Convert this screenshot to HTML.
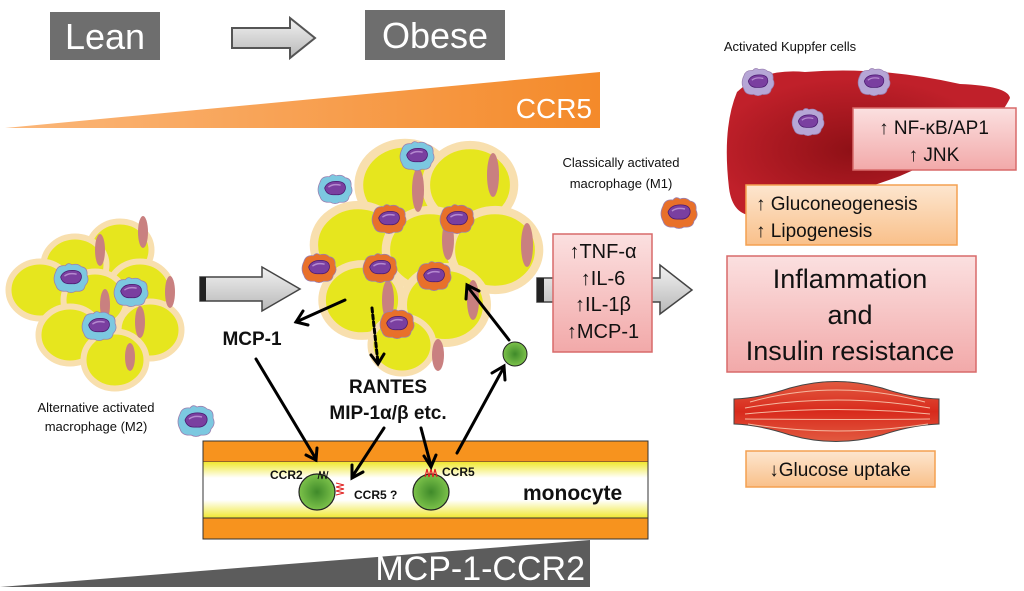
<!DOCTYPE html>
<html><head><meta charset="utf-8"><style>
html,body{margin:0;padding:0;background:#fff;}
svg{display:block;font-family:"Liberation Sans",Arial,sans-serif;}
</style></head><body>
<svg width="1024" height="591" viewBox="0 0 1024 591" xmlns="http://www.w3.org/2000/svg">
<defs>
<linearGradient id="org" x1="0" x2="1"><stop offset="0" stop-color="#fbb77a"/><stop offset="1" stop-color="#f48a2a"/></linearGradient>
<linearGradient id="gry" x1="0" y1="0" x2="0" y2="1"><stop offset="0" stop-color="#f2f2f2"/><stop offset="1" stop-color="#b8b8b8"/></linearGradient>
<linearGradient id="pink" x1="0" y1="0" x2="0" y2="1"><stop offset="0" stop-color="#fbe0e0"/><stop offset="1" stop-color="#f2a9a9"/></linearGradient>
<linearGradient id="peach" x1="0" y1="0" x2="0" y2="1"><stop offset="0" stop-color="#fde6cf"/><stop offset="1" stop-color="#f9c08a"/></linearGradient>
<linearGradient id="yl1" x1="0" y1="0" x2="0" y2="1"><stop offset="0" stop-color="#f0e830"/><stop offset="1" stop-color="#fff"/></linearGradient>
<linearGradient id="yl2" x1="0" y1="0" x2="0" y2="1"><stop offset="0" stop-color="#fff"/><stop offset="1" stop-color="#f0e830"/></linearGradient>
<radialGradient id="grn"><stop offset="0" stop-color="#3f8a2a"/><stop offset="1" stop-color="#7cc24a"/></radialGradient>
<radialGradient id="liv" cx="0.45" cy="0.55"><stop offset="0" stop-color="#8e1016"/><stop offset="1" stop-color="#c0202a"/></radialGradient>
<linearGradient id="mus" x1="0" y1="0" x2="0" y2="1"><stop offset="0" stop-color="#e25a40"/><stop offset="0.5" stop-color="#d82a1c"/><stop offset="1" stop-color="#e25a40"/></linearGradient>
<symbol id="mac" viewBox="0 0 40 34">
<path d="M4 10 Q6 3 14 4 Q17 0 21 3 Q27 1 31 5 Q38 6 37 14 Q40 20 35 25 Q34 32 25 31 Q20 34 15 31 Q6 32 4 25 Q0 18 4 10Z" fill="currentColor" stroke="#9a7fb0" stroke-width="0.8"/>
<path d="M9 16 Q12 8 24 9 Q32 10 31 17 Q29 24 20 23 Q11 24 9 16Z" fill="#7a3fa0" stroke="#4a1a70" stroke-width="0.8"/>
<path d="M13 15 Q18 11 26 13" stroke="#b58ad0" stroke-width="1.5" fill="none"/>
</symbol>
<g id="fat"><ellipse cx="0" cy="0" rx="42" ry="38" fill="#e6e61e" stroke="#f8dfae" stroke-width="8"/></g>
</defs>

<rect x="50" y="12" width="110" height="48" fill="#6e6e6e"/>
<text x="105" y="49" fill="#fff" font-size="36" text-anchor="middle">Lean</text>
<path d="M232 28 H290 V18 L315 38 L290 58 V48 H232Z" fill="url(#gry)" stroke="#555" stroke-width="2"/>
<rect x="365" y="10" width="140" height="50" fill="#6e6e6e"/>
<text x="435" y="48" fill="#fff" font-size="36" text-anchor="middle">Obese</text>

<path d="M5 128 L600 72 L600 128Z" fill="url(#org)"/>
<text x="592" y="118" fill="#fff" font-size="28" text-anchor="end">CCR5</text>

<path d="M0 587 L590 540 L590 587Z" fill="#5c5c5c"/>
<text x="585" y="580" fill="#fff" font-size="34" text-anchor="end">MCP-1-CCR2</text>

<g>
<use href="#fat" transform="translate(120,250) scale(0.75)"/>
<use href="#fat" transform="translate(75,265) scale(0.75)"/>
<use href="#fat" transform="translate(140,290) scale(0.75)"/>
<use href="#fat" transform="translate(40,290) scale(0.75)"/>
<use href="#fat" transform="translate(95,300) scale(0.75)"/>
<use href="#fat" transform="translate(150,330) scale(0.75)"/>
<use href="#fat" transform="translate(70,335) scale(0.75)"/>
<use href="#fat" transform="translate(115,360) scale(0.75)"/>
<ellipse cx="143" cy="232" rx="5" ry="16" fill="#c98080"/>
<ellipse cx="100" cy="250" rx="5" ry="16" fill="#c98080"/>
<ellipse cx="170" cy="292" rx="5" ry="16" fill="#c98080"/>
<ellipse cx="105" cy="305" rx="5" ry="16" fill="#c98080"/>
<ellipse cx="140" cy="322" rx="5" ry="16" fill="#c98080"/>
<ellipse cx="130" cy="357" rx="5" ry="14" fill="#c98080"/>
<use href="#mac" x="52" y="262" width="38" height="32" color="#7cc8e0"/>
<use href="#mac" x="112" y="276" width="38" height="32" color="#7cc8e0"/>
<use href="#mac" x="80" y="310" width="38" height="32" color="#7cc8e0"/>
</g>

<g>
<use href="#fat" transform="translate(405,185) scale(1.1)"/>
<use href="#fat" transform="translate(470,185) scale(1.05)"/>
<use href="#fat" transform="translate(358,245) scale(1.05)"/>
<use href="#fat" transform="translate(430,250) scale(1.05)"/>
<use href="#fat" transform="translate(495,250) scale(1.05)"/>
<use href="#fat" transform="translate(362,300) scale(0.95)"/>
<use href="#fat" transform="translate(445,305) scale(1.0)"/>
<use href="#fat" transform="translate(402,345) scale(0.75)"/>
<ellipse cx="493" cy="175" rx="6" ry="22" fill="#c98080"/>
<ellipse cx="418" cy="190" rx="6" ry="22" fill="#c98080"/>
<ellipse cx="527" cy="245" rx="6" ry="22" fill="#c98080"/>
<ellipse cx="448" cy="240" rx="6" ry="20" fill="#c98080"/>
<ellipse cx="388" cy="300" rx="6" ry="20" fill="#c98080"/>
<ellipse cx="473" cy="300" rx="6" ry="20" fill="#c98080"/>
<ellipse cx="438" cy="355" rx="6" ry="16" fill="#c98080"/>
<use href="#mac" x="398" y="140" width="38" height="32" color="#7cc8e0"/>
<use href="#mac" x="316" y="173" width="38" height="32" color="#7cc8e0"/>
<use href="#mac" x="370" y="203" width="38" height="32" color="#e8702a"/>
<use href="#mac" x="438" y="203" width="38" height="32" color="#e8702a"/>
<use href="#mac" x="300" y="252" width="38" height="32" color="#e8702a"/>
<use href="#mac" x="361" y="252" width="38" height="32" color="#e8702a"/>
<use href="#mac" x="415" y="260" width="38" height="32" color="#e8702a"/>
<use href="#mac" x="378" y="308" width="38" height="32" color="#e8702a"/>
</g>

<path d="M200 277 H262 V267 L300 289 L262 311 V301 H200Z" fill="url(#gry)" stroke="#444" stroke-width="1.5"/>
<rect x="200" y="277" width="6" height="24" fill="#222"/>
<path d="M537 278 H660 V265 L692 290 L660 314 V302 H537Z" fill="url(#gry)" stroke="#444" stroke-width="1.5"/>
<rect x="537" y="278" width="7" height="24" fill="#222"/>

<rect x="553" y="234" width="99" height="118" fill="url(#pink)" stroke="#d86a6a" stroke-width="1.5"/>
<g font-size="20" text-anchor="middle" fill="#111">
<text x="603" y="258">↑TNF-α</text>
<text x="603" y="285">↑IL-6</text>
<text x="603" y="311">↑IL-1β</text>
<text x="603" y="338">↑MCP-1</text>
</g>

<g font-size="13" text-anchor="middle" fill="#111">
<text x="96" y="412">Alternative activated</text>
<text x="96" y="431">macrophage (M2)</text>
<text x="621" y="167">Classically activated</text>
<text x="621" y="188">macrophage (M1)</text>
<text x="790" y="51">Activated Kuppfer cells</text>
</g>
<use href="#mac" x="176" y="404" width="40" height="34" color="#7cc8e0"/>
<use href="#mac" x="659" y="196" width="40" height="34" color="#e8702a"/>

<g stroke="#333" stroke-width="1">
<rect x="203" y="441" width="445" height="21" fill="#f7931e"/>
<rect x="203" y="462" width="445" height="16" fill="url(#yl1)" stroke="none"/>
<rect x="203" y="478" width="445" height="22" fill="#fff" stroke="none"/>
<rect x="203" y="500" width="445" height="18" fill="url(#yl2)" stroke="none"/>
<rect x="203" y="518" width="445" height="21" fill="#f7931e"/>
<line x1="203" y1="462" x2="203" y2="518"/><line x1="648" y1="462" x2="648" y2="518"/>
</g>
<circle cx="317" cy="492" r="18" fill="url(#grn)" stroke="#222" stroke-width="1.2"/>
<circle cx="431" cy="492" r="18" fill="url(#grn)" stroke="#222" stroke-width="1.2"/>
<path d="M318 479 l2 -8 l2 8 l2 -8 l2 8 l2 -8" stroke="#111" fill="none" stroke-width="1"/>
<path d="M336 483 l8 2 l-8 2 l8 2 l-8 2 l8 2 l-8 2" stroke="#e02020" fill="none" stroke-width="1"/>
<path d="M425 477 l2 -8 l2 8 l2 -8 l2 8 l2 -8 l2 8" stroke="#e02020" fill="none" stroke-width="1.2"/>
<g font-weight="bold" fill="#111">
<text x="270" y="479" font-size="12">CCR2</text>
<text x="354" y="499" font-size="12">CCR5 ?</text>
<text x="442" y="476" font-size="12">CCR5</text>
<text x="523" y="500" font-size="21">monocyte</text>
</g>

<circle cx="515" cy="354" r="12" fill="url(#grn)" stroke="#222" stroke-width="1"/>

<g stroke="#000" stroke-width="3" fill="none" stroke-linecap="round">
<path d="M345 300 L296 322"/><path d="M303 311 L296 322 L308 325"/>
<path d="M372 308 L378 363" stroke-dasharray="4 3"/><path d="M371 355 L378 364 L384 354"/>
<path d="M256 359 L316 459"/><path d="M306 455 L316 460 L317 448"/>
<path d="M384 428 L352 477"/><path d="M352 465 L352 478 L363 472"/>
<path d="M421 428 L431 466"/><path d="M424 456 L431 467 L436 455"/>
<path d="M457 453 L504 367"/><path d="M492 373 L504 366 L505 380"/>
<path d="M509 340 L467 286"/><path d="M466 299 L467 285 L479 291"/>
</g>
<g font-weight="bold" fill="#111" text-anchor="middle">
<text x="252" y="345" font-size="19">MCP-1</text>
<text x="388" y="393" font-size="19">RANTES</text>
<text x="388" y="419" font-size="19">MIP-1α/β etc.</text>
</g>

<path d="M737 92 Q762 68 805 72 Q880 66 960 84 Q1008 86 1010 98 Q1002 115 980 135 Q955 152 900 176 Q830 202 762 215 Q733 220 729 188 Q722 128 737 92Z" fill="url(#liv)"/>
<use href="#mac" x="740" y="67" width="36" height="30" color="#b6a6d6"/>
<use href="#mac" x="856" y="67" width="36" height="30" color="#b6a6d6"/>
<use href="#mac" x="790" y="107" width="36" height="30" color="#b6a6d6"/>
<rect x="853" y="108" width="163" height="62" fill="url(#pink)" stroke="#d86a6a" stroke-width="1.5"/>
<text x="934" y="134" font-size="19" text-anchor="middle" fill="#111">↑ NF-κB/AP1</text>
<text x="934" y="161" font-size="19" text-anchor="middle" fill="#111">↑ JNK</text>

<rect x="746" y="185" width="211" height="60" fill="url(#peach)" stroke="#f4a050" stroke-width="1.5"/>
<text x="756" y="210" font-size="19" fill="#111">↑ Gluconeogenesis</text>
<text x="756" y="237" font-size="19" fill="#111">↑ Lipogenesis</text>

<rect x="727" y="256" width="249" height="116" fill="url(#pink)" stroke="#d86a6a" stroke-width="1.5"/>
<g font-size="27" text-anchor="middle" fill="#111">
<text x="850" y="288">Inflammation</text>
<text x="850" y="324">and</text>
<text x="850" y="360">Insulin resistance</text>
</g>

<path d="M734 399 Q760 398 790 388 Q836 375 882 388 Q912 398 939 399 L939 424 Q912 425 882 435 Q836 448 790 435 Q760 425 734 424Z" fill="url(#mus)" stroke="#444" stroke-width="1"/>
<g stroke="#f6b8a0" stroke-width="1" fill="none">
<path d="M750 402 Q836 378 925 402"/><path d="M745 408 Q836 392 930 408"/>
<path d="M745 414 Q836 405 930 414"/><path d="M745 419 Q836 420 930 419"/>
<path d="M748 424 Q836 438 928 424"/>
</g>
<rect x="746" y="451" width="189" height="36" fill="url(#peach)" stroke="#f4a050" stroke-width="1.5"/>
<text x="840" y="476" font-size="19" text-anchor="middle" fill="#111">↓Glucose uptake</text>
</svg>
</body></html>
